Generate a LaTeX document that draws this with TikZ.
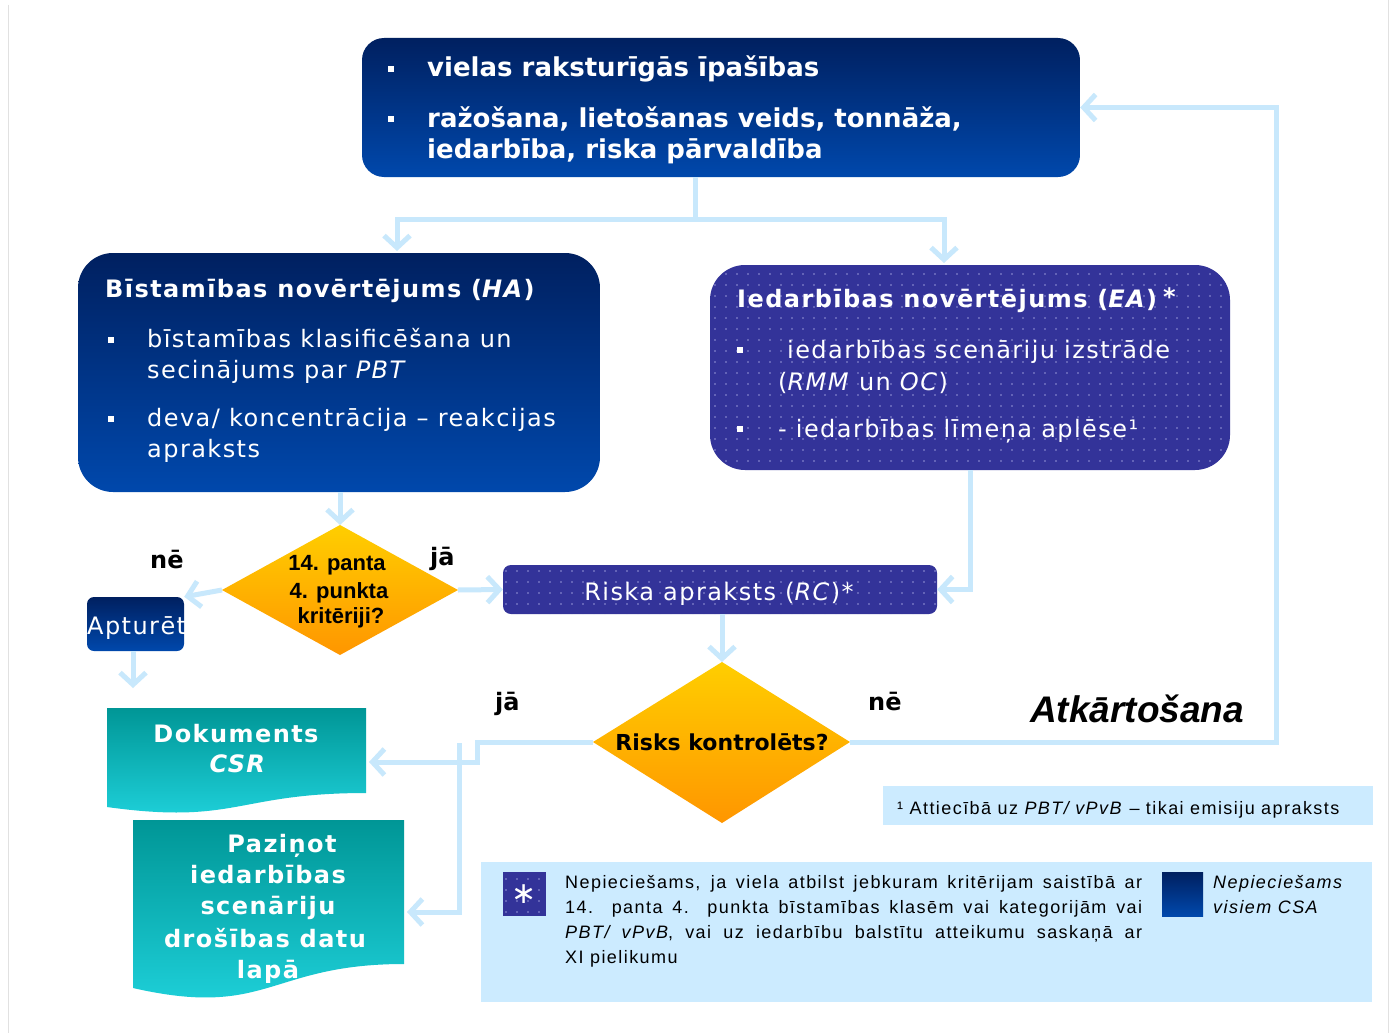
\documentclass[tikz,border=0pt]{standalone}
\usepackage{fontspec}
\setmainfont{DejaVu Sans}
\newfontfamily\fsp[LetterSpace=6]{DejaVu Sans}
\newfontfamily\fla[LetterSpace=8]{Liberation Sans}
\newfontfamily\flb{Liberation Sans}
\usetikzlibrary{arrows.meta,patterns.meta}
\definecolor{navytop}{RGB}{0,32,96}
\definecolor{navybot}{RGB}{0,72,172}
\definecolor{purp}{RGB}{51,51,153}
\definecolor{dotc}{RGB}{150,150,215}
\definecolor{orgtop}{RGB}{255,206,0}
\definecolor{orgbot}{RGB}{255,150,0}
\definecolor{tealtop}{RGB}{0,150,150}
\definecolor{tealbot}{RGB}{32,212,222}
\definecolor{connc}{RGB}{200,232,252}
\definecolor{lightbg}{RGB}{204,235,255}
\definecolor{edgegray}{RGB}{225,225,225}
\tikzset{
  conn/.style={draw=connc, line width=5pt, -{Straight Barb[length=12pt,width=26pt]}},
  connline/.style={draw=connc, line width=5pt},
  navy/.style={top color=navytop, bottom color=navybot, draw=none, inner sep=0},
  purpbox/.style={fill=purp, draw=none, inner sep=0,
     postaction={pattern={Dots[distance=11pt,radius=0.9pt]}, pattern color=dotc}},
  wtxt/.style={text=white, inner sep=0, anchor=base west},
  btxt/.style={text=black, inner sep=0, anchor=base west},
  bul/.style={fill=white, draw=none, inner sep=0, minimum size=6pt, rectangle},
  topf/.style={font=\bfseries\fontsize{26}{31}\selectfont},
  ttlf/.style={font=\fsp\bfseries\fontsize{24}{29}\selectfont},
  bodyf/.style={font=\fsp\fontsize{24}{29}\selectfont},
  labf/.style={font=\bfseries\fontsize{24}{29}\selectfont},
  smallf/.style={font=\fla\fontsize{18}{22}\selectfont},
  docf/.style={font=\fsp\bfseries\fontsize{24}{29}\selectfont, text=white, inner sep=0, anchor=base},
}
\begin{document}
\begin{tikzpicture}[x=1pt,y=-1pt]
\useasboundingbox (0,0) rectangle (1394,1033);
\fill[white] (0,0) rectangle (1394,1033);
\draw[edgegray, line width=1.5pt] (8.5,5) -- (8.5,1033);
\draw[edgegray, line width=1.5pt] (1388.5,0) -- (1388.5,1033);

% ---------- top box
\node[navy, rounded corners=22pt, minimum width=718pt, minimum height=139pt] (top) at (721,107.5) {};
\node[bul] (tb1) at (391,69) {};
\node[bul] (tb2) at (391,119) {};
\node[wtxt, topf] (t1) at (427,76) {vielas raksturīgās īpašības};
\node[wtxt, topf] (t2) at (427,127) {ražošana, lietošanas veids, tonnāža,};
\node[wtxt, topf] (t3) at (427,158) {iedarbība, riska pārvaldība};

% ---------- HA box
\node[navy, rounded corners=35pt, minimum width=522pt, minimum height=239pt] (ha) at (339,372.5) {};
\node[wtxt, ttlf] (hat) at (105,297) {Bīstamības novērtējums (\textit{HA})};
\node[bul] (hb1) at (111,340) {};
\node[bul] (hb2) at (111,419) {};
\node[wtxt, bodyf] (ha1) at (147,347) {bīstamības klasificēšana un};
\node[wtxt, bodyf] (ha2) at (147,378) {secinājums par \textit{PBT}};
\node[wtxt, bodyf] (ha3) at (147,426) {deva/ koncentrācija – reakcijas};
\node[wtxt, bodyf] (ha4) at (147,457) {apraksts};

% ---------- EA box
\node[purpbox, rounded corners=35pt, minimum width=520pt, minimum height=205pt] (ea) at (970,367.5) {};
\node[wtxt, ttlf] (eat) at (737,307) {Iedarbības novērtējums (\textit{EA})\hspace{6pt}\raisebox{2pt}{*}};
\node[bul] (eb1) at (740,350) {};
\node[bul] (eb2) at (740,429) {};
\node[wtxt, bodyf] (ea1) at (787,358) {iedarbības scenāriju izstrāde};
\node[wtxt, bodyf] (ea2) at (778,390) {(\textit{RMM} un \textit{OC})};
\node[wtxt, bodyf] (ea3) at (778,437) {- iedarbības līmeņa aplēse¹};

% ---------- diamond 1
\coordinate (d1n) at (340,525);
\coordinate (d1e) at (458,590);
\coordinate (d1s) at (340,655);
\coordinate (d1w) at (222,590);
\shade[top color=orgtop, bottom color=orgbot] (d1n) -- (d1e) -- (d1s) -- (d1w) -- cycle;
\node[btxt, anchor=base, font=\flb\bfseries\fontsize{22}{26}\selectfont] (d1a) at (337,570) {14. panta};
\node[btxt, anchor=base, font=\flb\bfseries\fontsize{22}{26}\selectfont] (d1b) at (339,598) {4. punkta};
\node[btxt, anchor=base, font=\flb\bfseries\fontsize{22}{26}\selectfont] (d1c) at (341,623) {kritēriji?};
\node[btxt, labf] (ne1) at (150,568) {nē};
\node[btxt, labf] (ja1) at (430,565) {jā};

% ---------- Apturet
\node[navy, rounded corners=7pt, minimum width=97pt, minimum height=54pt] (stop) at (135.5,624) {};
\node[wtxt, bodyf] (stopt) at (87,634) {Apturēt};
\coordinate (stopdown) at (133,688);

% ---------- Riska apraksts
\node[purpbox, rounded corners=8pt, minimum width=434pt, minimum height=49pt] (rc) at (720,589.5) {};
\node[wtxt, bodyf, anchor=base] (rct) at (719,600) {Riska apraksts (\textit{RC})*};

% ---------- diamond 2
\coordinate (d2n) at (722,662);
\coordinate (d2e) at (850,742);
\coordinate (d2s) at (722,823);
\coordinate (d2w) at (593,742);
\shade[top color=orgtop, bottom color=orgbot] (d2n) -- (d2e) -- (d2s) -- (d2w) -- cycle;
\node[btxt, anchor=base, font=\bfseries\fontsize{22}{26}\selectfont] (d2t) at (722,750) {Risks kontrolēts?};
\node[btxt, labf] (ja2) at (495,710) {jā};
\node[btxt, labf] (ne2) at (868,710) {nē};
\node[btxt, font=\flb\bfseries\itshape\fontsize{37}{44}\selectfont] (rep) at (1030,722) {Atkārtošana};

% ---------- documents
\shade[top color=tealtop, bottom color=tealbot] (107,708) -- (366,708) -- (366,793)
   .. controls (236.5,793) and (236.5,825) .. (107,807) -- cycle;
\node[docf] (doc1) at (236,742) {Dokuments};
\node[docf] (doc2) at (238,772) {\textit{CSR}};
\coordinate (docin) at (369,762);

\shade[top color=tealtop, bottom color=tealbot] (133,820) -- (404,820) -- (404,964)
   .. controls (268.5,964) and (268.5,1019) .. (133,988) -- cycle;
\node[docf] (pz1) at (282,852) {Paziņot};
\node[docf] (pz2) at (268,883) {iedarbības};
\node[docf] (pz3) at (268,914) {scenāriju};
\node[docf] (pz4) at (265,947) {drošības datu};
\node[docf] (pz5) at (268,978) {lapā};
\coordinate (pazin) at (407,912);

% ---------- footnote & legend
\node[fill=lightbg, draw=none, inner sep=0, minimum width=490pt, minimum height=39pt] (fn) at (1128,805.5) {};
\node[btxt, smallf] (fnt) at (897,814) {¹ Attiecībā uz \textit{PBT/ vPvB} – tikai emisiju apraksts};

\node[fill=lightbg, draw=none, inner sep=0, minimum width=891pt, minimum height=140pt] (lg) at (926.5,932) {};
\node[purpbox, minimum width=43pt, minimum height=44pt] (lgsq) at (524.5,894) {};
\node[text=white, inner sep=0, font=\fontsize{30}{30}\selectfont] (lgst) at (524.5,894) {∗};
\node[navy, minimum width=41pt, minimum height=44pt] (lgnv) at (1182.5,894) {};
\node[btxt, smallf] (l1) at (565,888) {\makebox[577pt][s]{Nepieciešams, ja viela atbilst jebkuram kritērijam saistībā ar}};
\node[btxt, smallf] (l2) at (565,913) {\makebox[577pt][s]{14. panta 4. punkta bīstamības klasēm vai kategorijām vai}};
\node[btxt, smallf] (l3) at (565,938) {\makebox[577pt][s]{\textit{PBT/ vPvB}, vai uz iedarbību balstītu atteikumu saskaņā ar}};
\node[btxt, smallf] (l4) at (565,963) {XI pielikumu};
\node[btxt, smallf] (n1) at (1213,888) {\textit{Nepieciešams}};
\node[btxt, smallf] (n2) at (1213,913) {\textit{visiem CSA}};

% ---------- connectors
\coordinate (topout) at (695,177);
\coordinate (split) at (695,219);
\coordinate (haIn) at (397,251);
\coordinate (eaIn) at (944,263);
\draw[connline] (topout) -- (split);
\draw[conn] (split) -| (haIn);
\draw[conn] (split) -| (eaIn);
\draw[conn] (ha.south -| d1n) -- (d1n);
\draw[conn] (d1w) -- (stop.north east);
\draw[conn] (stop.south -| stopdown) -- (stopdown);
\draw[conn] (d1e) -- (rc.west);
\draw[conn] (ea.south) |- (rc.east);
\draw[conn] (rc.south -| d2n) -- (d2n);
\coordinate (loopc) at (1276,107.5);
\draw[conn] (d2e) -| (loopc) -- (top.east);
\draw[conn] (d2w) -- ++(-116,0) |- (docin);
\coordinate (brk) at (459,743);
\draw[conn] (brk) |- (pazin);
\end{tikzpicture}
\end{document}
